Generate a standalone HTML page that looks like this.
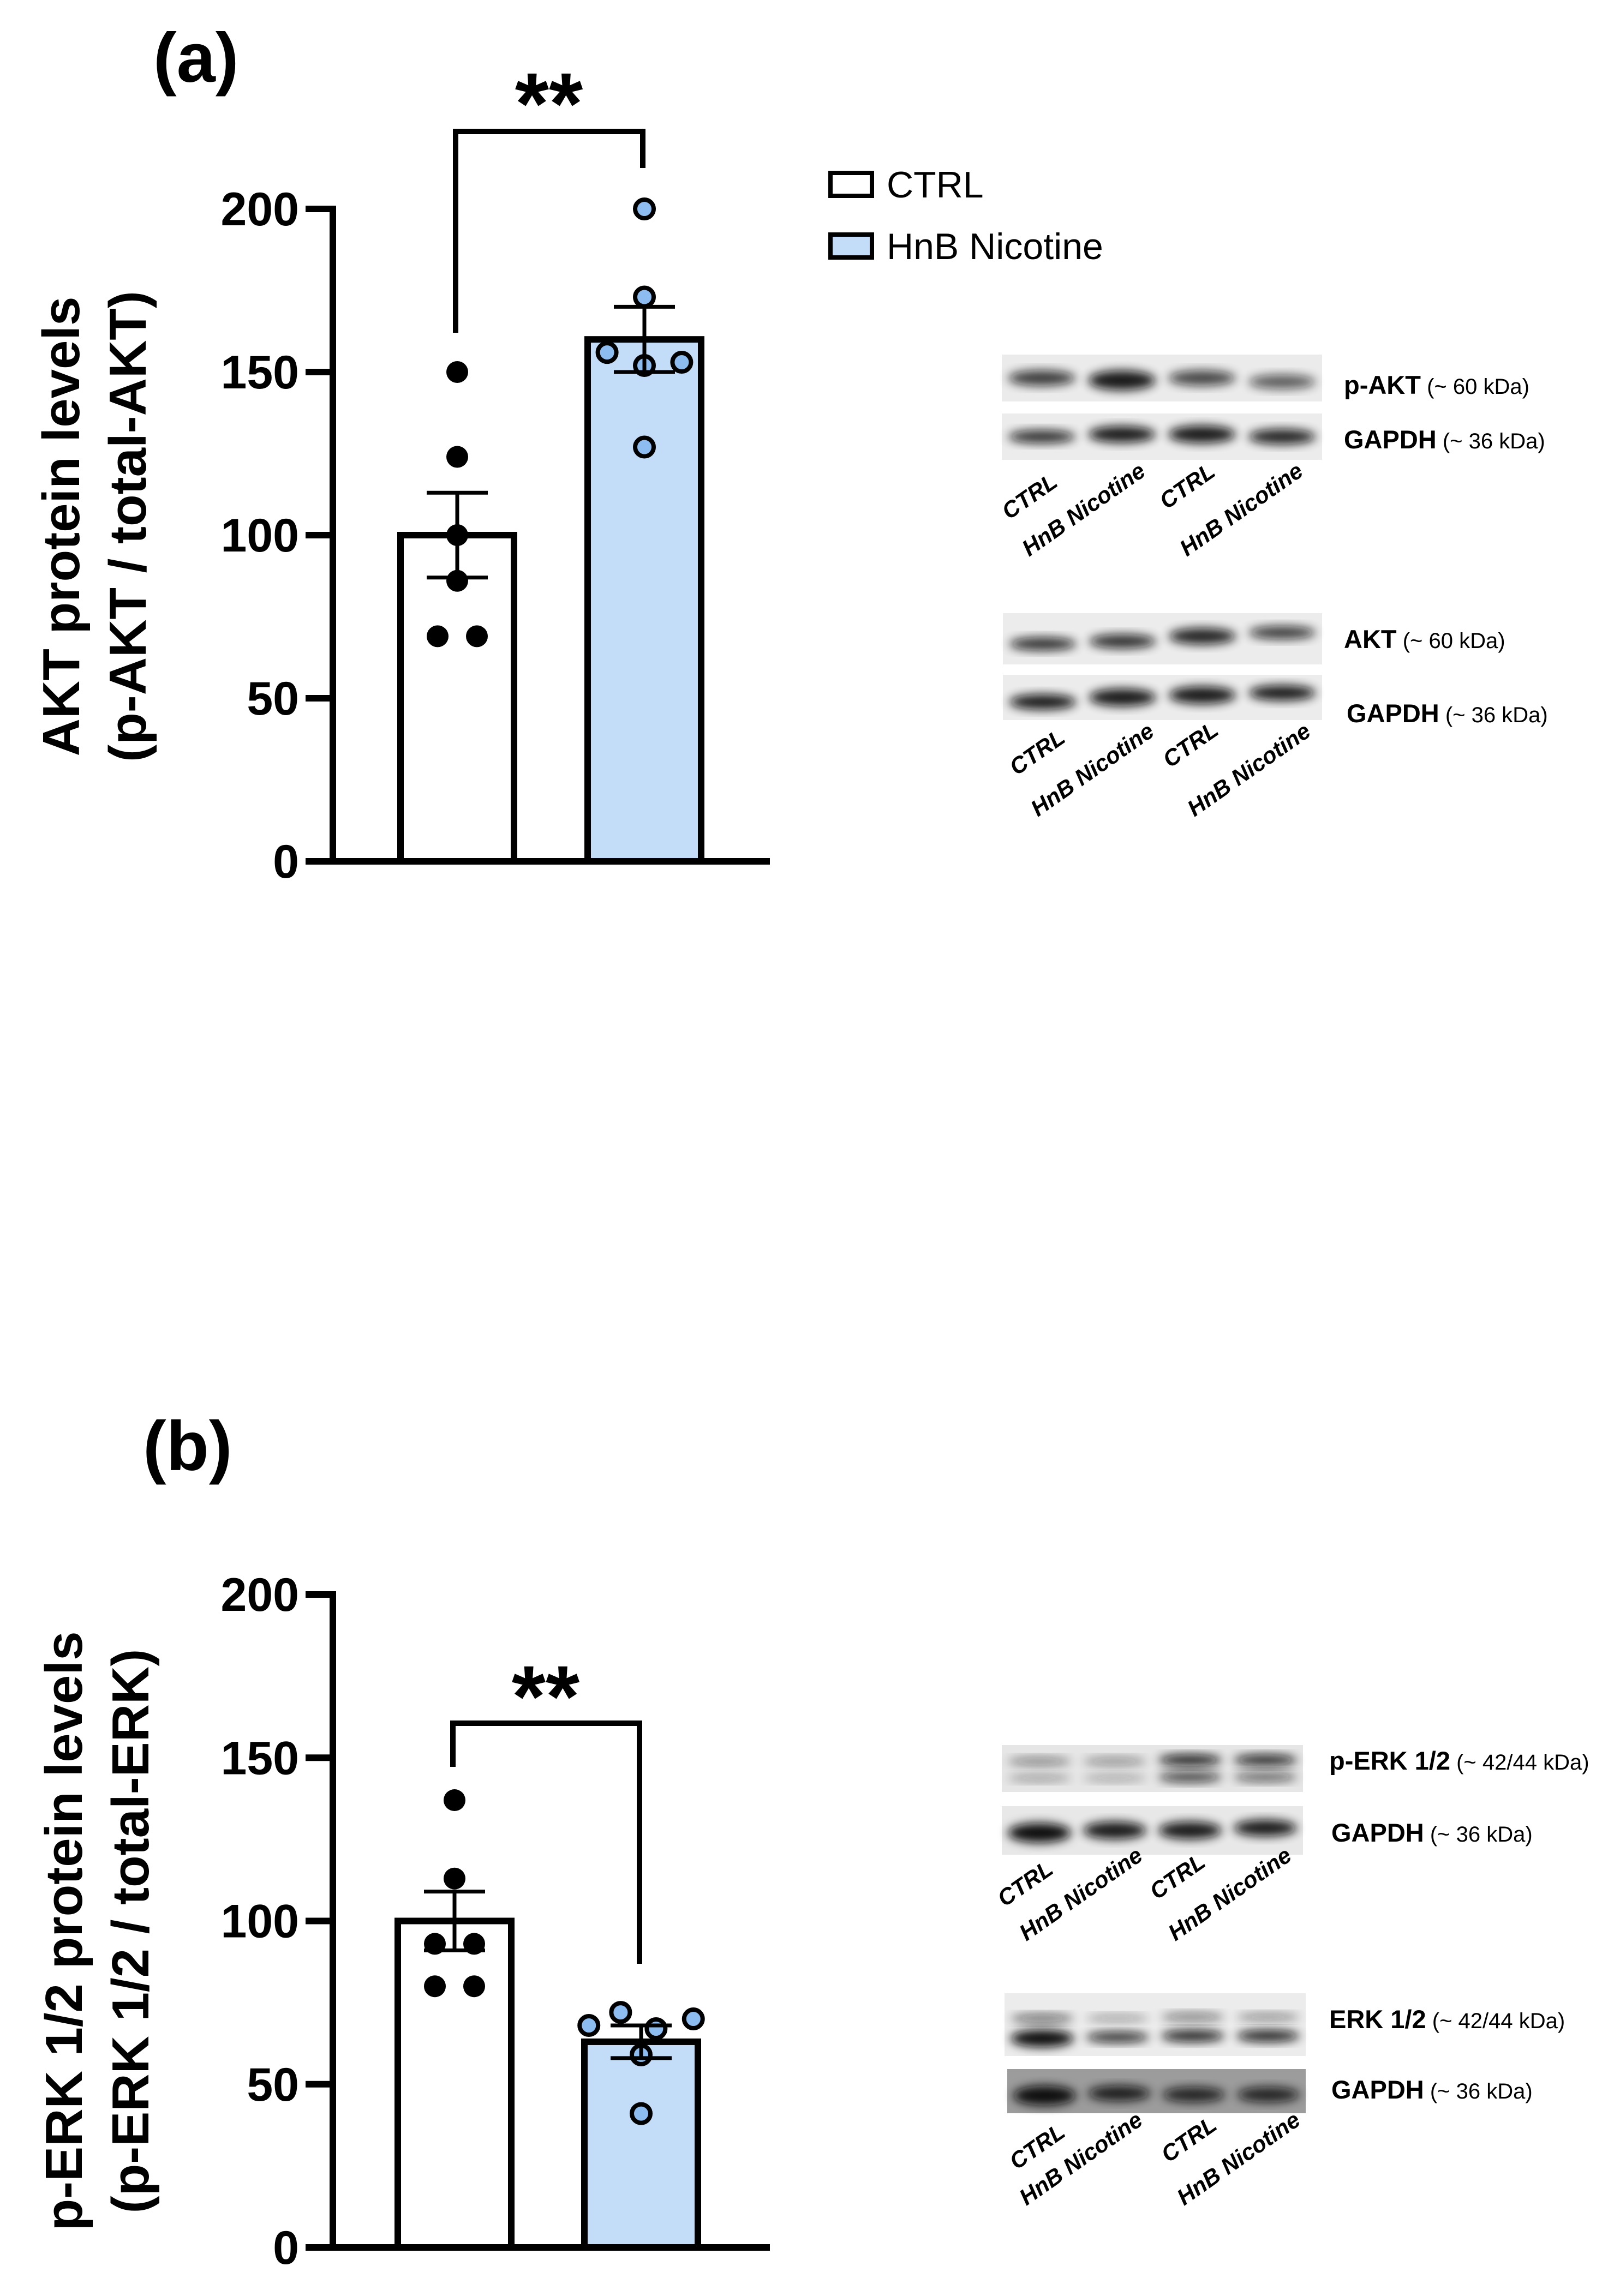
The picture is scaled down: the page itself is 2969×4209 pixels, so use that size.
<!DOCTYPE html>
<html><head><meta charset="utf-8">
<style>
html,body{margin:0;padding:0;background:#fff;}
svg{display:block;}
text{font-family:"Liberation Sans",sans-serif;}
</style></head>
<body>
<svg id="fig" width="2969" height="4209" viewBox="0 0 2969 4209" xmlns="http://www.w3.org/2000/svg">
<defs>
<filter id="blur" x="-20%" y="-50%" width="140%" height="200%"><feGaussianBlur stdDeviation="9"/></filter>
</defs>
<g id="chartA"></g>
<g id="chartB"></g>
<g id="blots"></g>
<g>
  <g>
    <rect x="1522" y="317" width="76" height="42" fill="#fff" stroke="#000" stroke-width="8"/>
    <text x="1625" y="362" font-size="68">CTRL</text>
  </g>
  <g>
    <rect x="1522" y="430" width="76" height="42" fill="#c3dcf7" stroke="#000" stroke-width="8"/>
    <text x="1625" y="475" font-size="68">HnB Nicotine</text>
  </g>
</g>
</svg>
<script>
// Panel (a) data: AKT
const categoriesA = ["CTRL", "HnB Nicotine"];
const meansA = [100, 160];
const semA = [13, 10];
const pointsCtrlA = [150, 124, 100, 86, 69, 69];
const pointsHnbA = [200, 173, 156, 152, 153, 127];
const jitterCtrlA = [0, 0, 0, 0, -1, 1];
const jitterHnbA = [0, 0, -1, 0, 1, 0];
// Panel (b) data: ERK
const categoriesB = ["CTRL", "HnB Nicotine"];
const meansB = [100, 63];
const semB = [9, 5];
const pointsCtrlB = [137, 113, 93, 93, 80, 80];
const pointsHnbB = [72, 68, 67, 70, 59, 41];
const jitterCtrlB = [0, 0, -1, 1, -1, 1];
const jitterHnbB = [-0.55, -1.4, 0.4, 1.4, 0, 0];
const yTicks = [0, 50, 100, 150, 200];
const yTickLabels = ["0", "50", "100", "150", "200"];

const NS = "http://www.w3.org/2000/svg";
function mk(tag, attrs, parent) {
  const e = document.createElementNS(NS, tag);
  for (const k in attrs) e.setAttribute(k, attrs[k]);
  if (parent) parent.appendChild(e);
  return e;
}

function drawChart(g, cfg) {
  const y = v => cfg.y0 - (v / 200) * (cfg.y0 - cfg.y200);
  const ax = cfg.axisX;
  cfg.means.forEach((m, i) => {
    const r = mk("rect", {x: cfg.barX[i], y: y(m), width: cfg.barW, height: y(0) - y(m),
      fill: i === 0 ? "#fff" : "#c3dcf7", stroke: "#000", "stroke-width": 12}, g);
    
    
  });
  const pts = [cfg.ptsCtrl, cfg.ptsHnb];
  const jit = [cfg.jitCtrl, cfg.jitHnb];
  pts.forEach((arr, i) => {
    const cx0 = cfg.barX[i] + cfg.barW / 2;
    arr.forEach((v, j) => {
      const c = mk("circle", {cx: cx0 + jit[i][j] * 36 * (i === 0 ? 1 : 1.9), cy: y(v), r: i === 0 ? 20 : 17,
        fill: i === 0 ? "#000" : "#8cbcf0", stroke: "#000", "stroke-width": i === 0 ? 0 : 8}, g);
      
      
    });
  });
  cfg.means.forEach((m, i) => {
    const cx = cfg.barX[i] + cfg.barW / 2;
    const eg = mk("g", {stroke: "#000", "stroke-width": 7}, g);
    
    
    mk("line", {x1: cx, x2: cx, y1: y(m + cfg.sem[i]), y2: y(m - cfg.sem[i])}, eg);
    mk("line", {x1: cx - 56, x2: cx + 56, y1: y(m + cfg.sem[i]), y2: y(m + cfg.sem[i])}, eg);
    mk("line", {x1: cx - 56, x2: cx + 56, y1: y(m - cfg.sem[i]), y2: y(m - cfg.sem[i])}, eg);
  });
  const axg = mk("g", {stroke: "#000", "stroke-width": 12, fill: "none"}, g);
  
  
  mk("line", {x1: ax, x2: ax, y1: y(200) - 6, y2: y(0) + 6}, axg);
  mk("line", {x1: ax - 6, x2: cfg.axisEnd, y1: y(0), y2: y(0)}, axg);
  yTicks.forEach((t, i) => {
    mk("line", {x1: ax - 50, x2: ax, y1: y(t), y2: y(t)}, axg);
    const tx = mk("text", {x: ax - 62, y: y(t) + 30, "font-size": 86, "font-weight": "bold", "text-anchor": "end"}, g);
    tx.textContent = yTickLabels[i];
    
    
  });
  const tg = mk("g", {transform: "translate(" + cfg.titleX + "," + cfg.titleY + ") rotate(-90)"}, g);
  
  
  cfg.title.forEach((line, k) => {
    const t = mk("text", {x: 0, y: k * 122, "font-size": 96, "font-weight": "bold", "text-anchor": "middle"}, tg);
    t.textContent = line;
  });
  const bg = mk("g", {}, g);
  
  
  mk("polyline", {points: cfg.bracket, fill: "none", stroke: "#000", "stroke-width": 10}, bg);
  const st = mk("text", {x: cfg.starX, y: cfg.starY, "font-size": 160, "font-weight": "bold", "text-anchor": "middle"}, bg);
  st.textContent = "**";
  const pl = mk("text", {x: cfg.labelX, y: cfg.labelY, "font-size": 128, "font-weight": "bold"}, g);
  pl.textContent = cfg.label;
  
  
}

drawChart(document.getElementById("chartA"), {
  y0: 1579, y200: 383, axisX: 610, axisEnd: 1411, barX: [734, 1077], barW: 208,
  means: meansA, sem: semA, ptsCtrl: pointsCtrlA, ptsHnb: pointsHnbA, jitCtrl: jitterCtrlA, jitHnb: jitterHnbA,
  title: ["AKT protein levels", "(p-AKT / total-AKT)"], titleX: 145, titleY: 965,
  bracket: "835,610 835,241 1178,241 1178,308", starX: 1006, starY: 245,
  label: "(a)", labelX: 281, labelY: 150
});
drawChart(document.getElementById("chartB"), {
  y0: 4120, y200: 2923, axisX: 610, axisEnd: 1411, barX: [729, 1071], barW: 208,
  means: meansB, sem: semB, ptsCtrl: pointsCtrlB, ptsHnb: pointsHnbB, jitCtrl: jitterCtrlB, jitHnb: jitterHnbB,
  title: ["p-ERK 1/2 protein levels", "(p-ERK 1/2 / total-ERK)"], titleX: 150, titleY: 3540,
  bracket: "830,3239 830,3159 1172,3159 1172,3600", starX: 1000, starY: 3165,
  label: "(b)", labelX: 262, labelY: 2695
});

const blotG = document.getElementById("blots");
function blot(x, y, w, h, bg, bands, name) {
  const g = mk("g", {}, blotG);
  
  
  mk("rect", {x: x, y: y, width: w, height: h, fill: bg}, g);
  const lw = w / 4;
  bands.forEach((b, i) => {
    b.forEach(bb => {
      mk("ellipse", {cx: x + lw * (i + 0.5), cy: y + h * bb[0], rx: lw * 0.42, ry: bb[1],
        fill: "#111", opacity: bb[2], filter: "url(#blur)"}, g);
    });
  });
}
function label(x, y, bold, norm, name) {
  const t = mk("text", {x: x, y: y, "font-size": 42}, blotG);
  
  
  const a = mk("tspan", {"font-weight": "bold", "font-size": 47}, t); a.textContent = bold;
  const b = mk("tspan", {"font-size": 40}, t); b.textContent = " " + norm;
}
function lanes(centers, name) {
  const names = ["CTRL", "HnB Nicotine", "CTRL", "HnB Nicotine"];
  names.forEach((n, i) => {
    const cx = centers[i][0], cy = centers[i][1] + 14;
    const t = mk("text", {x: cx, y: cy, "font-size": 42, "font-weight": "bold", "font-style": "italic",
      "text-anchor": "middle", transform: "rotate(-35 " + cx + " " + (cy - 14) + ")"}, blotG);
    t.textContent = n;
    
    
  });
}
// AKT panel
blot(1836, 650, 587, 86, "#ebebeb", [[[0.5,14,0.8]],[[0.55,18,0.95]],[[0.5,14,0.75]],[[0.58,13,0.65]]], "p-akt-blot");
blot(1836, 758, 587, 85, "#ececec", [[[0.5,12,0.85]],[[0.45,15,0.95]],[[0.45,16,0.95]],[[0.5,14,0.9]]], "gapdh-blot-a1");
label(2463, 722, "p-AKT", "(~ 60 kDa)", "p-akt-label");
label(2463, 822, "GAPDH", "(~ 36 kDa)", "gapdh-label");
lanes([[1887,910],[1986,934],[2176,891],[2275,934]], "lane-label");
blot(1838, 1124, 585, 94, "#ececec", [[[0.6,12,0.85]],[[0.55,13,0.85]],[[0.45,15,0.9]],[[0.38,12,0.8]]], "akt-blot");
blot(1838, 1237, 585, 83, "#ececec", [[[0.6,14,0.95]],[[0.5,16,0.95]],[[0.45,16,0.95]],[[0.4,14,0.95]]], "gapdh-blot-a2");
label(2463, 1188, "AKT", "(~ 60 kDa)", "akt-label");
label(2468, 1324, "GAPDH", "(~ 36 kDa)", "gapdh-label");
lanes([[1901,1379],[2002,1411],[2182,1365],[2289,1411]], "lane-label");
// ERK panel
blot(1836, 3199, 552, 86, "#e6e6e6", [[[0.35,8,0.45],[0.7,7,0.35]],[[0.35,8,0.4],[0.7,7,0.3]],[[0.32,10,0.95],[0.68,10,0.75]],[[0.32,10,0.9],[0.68,9,0.6]]], "p-erk-blot");
blot(1836, 3311, 552, 89, "#e8e8e8", [[[0.55,18,1]],[[0.5,16,0.95]],[[0.5,16,0.95]],[[0.45,15,0.95]]], "gapdh-blot-b1");
label(2436, 3244, "p-ERK 1/2", "(~ 42/44 kDa)", "p-erk-label");
label(2440, 3376, "GAPDH", "(~ 36 kDa)", "gapdh-label");
lanes([[1879,3453],[1981,3472],[2158,3440],[2254,3472]], "lane-label");
blot(1841, 3654, 552, 115, "#ececec", [[[0.4,8,0.6],[0.72,16,1]],[[0.4,7,0.35],[0.7,10,0.85]],[[0.38,8,0.5],[0.68,11,0.9]],[[0.38,7,0.45],[0.68,11,0.9]]], "erk-blot");
blot(1846, 3793, 547, 81, "#9c9c9c", [[[0.6,18,1]],[[0.55,14,0.9]],[[0.58,14,0.85]],[[0.58,14,0.85]]], "gapdh-blot-b2");
label(2436, 3718, "ERK 1/2", "(~ 42/44 kDa)", "erk-label");
label(2440, 3847, "GAPDH", "(~ 36 kDa)", "gapdh-label");
lanes([[1901,3935],[1981,3957],[2179,3922],[2270,3957]], "lane-label");
</script>
</body></html>
